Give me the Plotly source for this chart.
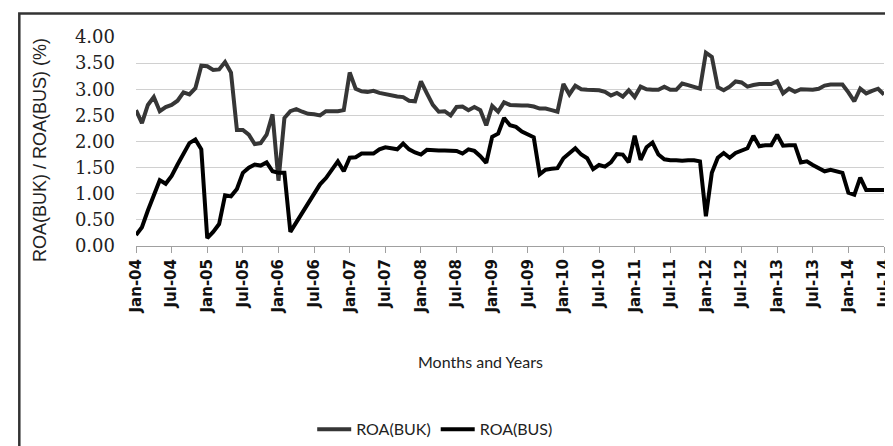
import plotly.graph_objects as go

# monthly values, Jan-04 .. Jul-14
roa_buk = [2.60, 2.35, 2.70, 2.85, 2.58, 2.66, 2.70, 2.78, 2.94, 2.90,
           3.02, 3.45, 3.44, 3.37, 3.38, 3.52, 3.32, 2.22, 2.22, 2.13,
           1.95, 1.97, 2.13, 2.52, 1.25, 2.45, 2.58, 2.62, 2.57, 2.53,
           2.52, 2.50, 2.58, 2.58, 2.58, 2.60, 3.32, 3.01, 2.96, 2.95,
           2.97, 2.93, 2.90, 2.88, 2.86, 2.85, 2.78, 2.77, 3.15, 2.92,
           2.70, 2.57, 2.58, 2.50, 2.66, 2.67, 2.60, 2.66, 2.60, 2.31,
           2.68, 2.57, 2.75, 2.70, 2.69, 2.69, 2.69, 2.67, 2.63, 2.63,
           2.60, 2.57, 3.10, 2.90, 3.07, 3.00, 2.99, 2.99, 2.98, 2.95,
           2.88, 2.93, 2.86, 2.98, 2.85, 3.05, 3.00, 2.99, 2.99, 3.05,
           2.99, 2.99, 3.11, 3.08, 3.05, 3.01, 3.70, 3.62, 3.04, 2.98,
           3.05, 3.15, 3.13, 3.05, 3.08, 3.10, 3.10, 3.10, 3.15, 2.92,
           3.01, 2.95, 3.00, 2.99, 2.99, 3.01, 3.07, 3.09, 3.09, 3.09,
           2.94, 2.77, 3.01, 2.92, 2.97, 3.01, 2.90]

roa_bus = [0.21, 0.36, 0.68, 0.96, 1.26, 1.19, 1.34, 1.56, 1.78, 1.97,
           2.04, 1.85, 0.15, 0.27, 0.42, 0.97, 0.95, 1.09, 1.40, 1.50,
           1.56, 1.54, 1.60, 1.43, 1.40, 1.40, 0.27, 0.45, 0.62, 0.82,
           1.00, 1.18, 1.30, 1.45, 1.62, 1.43, 1.69, 1.70, 1.77, 1.77,
           1.77, 1.85, 1.89, 1.87, 1.85, 1.96, 1.85, 1.79, 1.75, 1.84,
           1.83, 1.83, 1.83, 1.82, 1.82, 1.77, 1.85, 1.82, 1.72, 1.59,
           2.09, 2.15, 2.45, 2.31, 2.28, 2.19, 2.13, 2.08, 1.37, 1.46,
           1.48, 1.49, 1.68, 1.78, 1.87, 1.75, 1.68, 1.47, 1.55, 1.52,
           1.60, 1.76, 1.75, 1.60, 2.11, 1.65, 1.89, 1.98, 1.75, 1.66,
           1.64, 1.64, 1.63, 1.64, 1.64, 1.62, 0.57, 1.40, 1.69, 1.78,
           1.69, 1.78, 1.83, 1.87, 2.11, 1.91, 1.93, 1.93, 2.13, 1.92,
           1.93, 1.93, 1.60, 1.62, 1.55, 1.50, 1.43, 1.46, 1.42, 1.40,
           1.02, 0.98, 1.31, 1.07, 1.07, 1.07, 1.07]

tick_labels = ['Jan-04', 'Jul-04', 'Jan-05', 'Jul-05', 'Jan-06', 'Jul-06',
               'Jan-07', 'Jul-07', 'Jan-08', 'Jul-08', 'Jan-09', 'Jul-09',
               'Jan-10', 'Jul-10', 'Jan-11', 'Jul-11', 'Jan-12', 'Jul-12',
               'Jan-13', 'Jul-13', 'Jan-14', 'Jul-14']
y_ticks = [0, 0.5, 1, 1.5, 2, 2.5, 3, 3.5, 4]

mon = ['Jan', 'Feb', 'Mar', 'Apr', 'May', 'Jun',
       'Jul', 'Aug', 'Sep', 'Oct', 'Nov', 'Dec']
months = []
for i in range(len(roa_buk)):
    months.append('%s-%02d' % (mon[i % 12], 4 + i // 12))

fig = go.Figure()
fig.add_trace(go.Scatter(x=months, y=roa_buk, name='ROA(BUK)', mode='lines',
                         line=dict(color='#363636', width=4)))
fig.add_trace(go.Scatter(x=months, y=roa_bus, name='ROA(BUS)', mode='lines',
                         line=dict(color='#000000', width=4)))

fig.update_layout(
    width=893, height=446,
    margin=dict(l=128, r=8, t=29, b=205),
    paper_bgcolor='white', plot_bgcolor='white',
    showlegend=True,
    legend=dict(orientation='h', x=0.40, y=-0.877, xanchor='center', yanchor='middle',
                font=dict(family='Lato', size=16, color='#222222'),
                itemwidth=34, bgcolor='rgba(0,0,0,0)'),
    xaxis=dict(type='category', range=[0, len(months) - 1],
               tickmode='array', tickvals=tick_labels, ticktext=tick_labels,
               tickangle=-90, ticks='outside', ticklen=6, tickcolor='#a0a0a0',
               showline=True, linecolor='#a0a0a0', linewidth=1,
               showgrid=False, zeroline=False,
               tickfont=dict(family='DejaVu Sans', size=15, color='#111111',
                             weight='bold')),
    yaxis=dict(range=[0, 4], tickvals=y_ticks, tickformat='.2f',
               showgrid=True, gridcolor='#d0d0d0', gridwidth=1,
               zeroline=False, showline=False, ticks='',
               ticklabelstandoff=20,
               tickfont=dict(family='DejaVu Serif', size=18, color='#222222')),
    shapes=[dict(type='rect', xref='paper', yref='paper',
                 x0=-0.156, x1=1.03, y0=-1.05, y1=1.113,
                 line=dict(color='#333333', width=2.5), layer='below')],
    annotations=[
        dict(text='ROA(BUK) / ROA(BUS) (%)', textangle=-90, showarrow=False,
             xref='paper', yref='paper', x=-0.128, y=0.46,
             xanchor='center', yanchor='middle',
             font=dict(family='Liberation Sans', size=18, color='#222222')),
        dict(text='Months and Years', showarrow=False,
             xref='paper', yref='paper', x=0.46, y=-0.552,
             xanchor='center', yanchor='middle',
             font=dict(family='Lato', size=16, color='#222222')),
    ],
)

fig.write_html("out.html")
